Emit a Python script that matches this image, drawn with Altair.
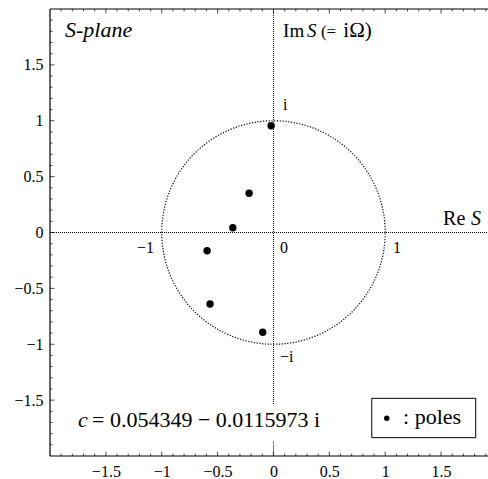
import altair as alt
import numpy as np
import pandas as pd

# Pole locations in the S-plane (real part, imaginary part)
POLE_RE = [-0.021, -0.218, -0.364, -0.594, -0.568, -0.096]
POLE_IM = [0.956, 0.351, 0.043, -0.163, -0.640, -0.893]

# Frame extent and axis labelling
X_DOMAIN = [-2.0, 1.92]
Y_DOMAIN = [-2.0, 2.0]
TICK_LABELS = [-1.5, -1.0, -0.5, 0.0, 0.5, 1.0, 1.5]
MINOR_STEP = 0.1

# The vertical axis line is broken where the constant's caption sits
IM_AXIS_SEGMENTS = [(2.0, -1.54), (-1.87, -2.0)]

CONSTANT_TEXT = "= 0.054349 \u2212 0.0115973 i"

W, H = 438, 447
SERIF = "Liberation Serif"

xs = alt.Scale(domain=X_DOMAIN, nice=False, zero=False)
ys = alt.Scale(domain=Y_DOMAIN, nice=False, zero=False)

label_expr = "replace(format(datum.value, '~g'), '-', '\u2212')"
x_axis = alt.Axis(values=TICK_LABELS, labelExpr=label_expr, ticks=False, domain=False,
                  grid=False, title="", labelPadding=7, labelFont=SERIF, labelFontSize=16,
                  labelColor="black")
y_axis = alt.Axis(values=TICK_LABELS, labelExpr=label_expr, ticks=False, domain=False,
                  grid=False, title="", labelPadding=7, labelFont=SERIF, labelFontSize=16,
                  labelColor="black")


def X(field):
    return alt.X(field, type="quantitative", scale=xs, axis=x_axis)


def Y(field):
    return alt.Y(field, type="quantitative", scale=ys, axis=y_axis)


# Unit circle |S| = 1
theta = np.linspace(0, 2 * np.pi, 361)
circle_df = pd.DataFrame({"x": np.cos(theta), "y": np.sin(theta), "k": np.arange(361)})
circle = alt.Chart(circle_df).mark_line(
    color="black", strokeWidth=1.2, strokeDash=[1.2, 1.6]
).encode(x=X("x"), y=Y("y"), order="k:Q")

# Dotted real and imaginary axes
re_axis = alt.Chart(pd.DataFrame({"x": [X_DOMAIN[0]], "x2": [X_DOMAIN[1]], "y": [0.0]})).mark_rule(
    color="black", strokeWidth=1, strokeDash=[1, 1]
).encode(x=X("x"), x2="x2", y=Y("y"))
im_axis = alt.Chart(pd.DataFrame({
    "x": [0.0] * len(IM_AXIS_SEGMENTS),
    "y": [s[0] for s in IM_AXIS_SEGMENTS],
    "y2": [s[1] for s in IM_AXIS_SEGMENTS],
})).mark_rule(color="black", strokeWidth=1, strokeDash=[1, 1]).encode(
    x=X("x"), y=Y("y"), y2="y2")

# Frame: top, left and bottom edges
frame_h = alt.Chart(pd.DataFrame({"x": [X_DOMAIN[0]] * 2, "x2": [X_DOMAIN[1]] * 2,
                                  "y": [Y_DOMAIN[0], Y_DOMAIN[1]]})).mark_rule(
    color="black", strokeWidth=1.2).encode(x=X("x"), x2="x2", y=Y("y"))
frame_v = alt.Chart(pd.DataFrame({"x": [X_DOMAIN[0]], "y": [Y_DOMAIN[0]], "y2": [Y_DOMAIN[1]]})).mark_rule(
    color="black", strokeWidth=1.2).encode(x=X("x"), y=Y("y"), y2="y2")


# Inward-pointing frame ticks (major every 0.5, minor every 0.1)
def tick_positions(lo, hi):
    vals = np.round(np.arange(-2.0, 2.0 + 1e-9, MINOR_STEP), 2)
    vals = [float(v) for v in vals if lo < v < hi]
    major = [v for v in vals if abs(v * 2 - round(v * 2)) < 1e-6]
    minor = [v for v in vals if v not in major]
    return major, minor


xmaj, xmin = tick_positions(X_DOMAIN[0], X_DOMAIN[1])
ymaj, ymin = tick_positions(Y_DOMAIN[0], Y_DOMAIN[1])

tick_layers = []
for vals, length in [(xmaj, 4.5), (xmin, 2.5)]:
    for edge, off in [(Y_DOMAIN[1], length / 2), (Y_DOMAIN[0], -length / 2)]:
        df = pd.DataFrame({"x": vals, "y": [edge] * len(vals)})
        tick_layers.append(alt.Chart(df).mark_tick(
            orient="vertical", size=length, thickness=1, color="black", yOffset=off
        ).encode(x=X("x"), y=Y("y")))
for vals, length in [(ymaj, 4.5), (ymin, 2.5)]:
    df = pd.DataFrame({"x": [X_DOMAIN[0]] * len(vals), "y": vals})
    tick_layers.append(alt.Chart(df).mark_tick(
        orient="horizontal", size=length, thickness=1, color="black", xOffset=length / 2
    ).encode(x=X("x"), y=Y("y")))

# Poles
poles = alt.Chart(pd.DataFrame({"x": POLE_RE, "y": POLE_IM})).mark_point(
    filled=True, color="black", opacity=1, size=55, shape="circle"
).encode(x=X("x"), y=Y("y"))


def text_layer(rows, size, italic=False, align="left"):
    df = pd.DataFrame(rows, columns=["x", "y", "t"])
    return alt.Chart(df).mark_text(
        font=SERIF, fontSize=size, fontStyle="italic" if italic else "normal",
        align=align, baseline="alphabetic", color="black"
    ).encode(x=X("x"), y=Y("y"), text="t:N")


texts = [
    text_layer([(-1.866, 1.745, "S-plane")], 22, italic=True),
    text_layer([(0.086, 1.752, "Im")], 19),
    text_layer([(0.300, 1.752, "S")], 19, italic=True),
    text_layer([(0.425, 1.752, "(=")], 17),
    text_layer([(0.625, 1.752, "i\u03a9)")], 21),
    text_layer([(1.518, 0.067, "Re")], 20),
    text_layer([(1.768, 0.067, "S")], 20, italic=True),
    text_layer([(0.086, 1.096, "i"), (0.059, -1.159, "\u2212i"),
                (0.059, -0.183, "0"), (1.07, -0.183, "1")], 16),
    text_layer([(-1.069, -0.183, "\u22121")], 16, align="right"),
    text_layer([(-1.749, -1.74, "c")], 22, italic=True),
    text_layer([(-1.624, -1.74, CONSTANT_TEXT)], 22),
]

# Legend box
legend_box = alt.Chart(pd.DataFrame({"x": [0.88], "x2": [1.81], "y": [-1.484], "y2": [-1.836]})).mark_rect(
    fill="white", stroke="black", strokeWidth=1
).encode(x=X("x"), x2="x2", y=Y("y"), y2="y2")
legend_dot = alt.Chart(pd.DataFrame({"x": [1.014], "y": [-1.663]})).mark_point(
    filled=True, color="black", opacity=1, size=30, shape="circle"
).encode(x=X("x"), y=Y("y"))
legend_text = text_layer([(1.16, -1.716, ": poles")], 22)

chart = alt.layer(
    circle, re_axis, im_axis, frame_h, frame_v, *tick_layers, poles, *texts,
    legend_box, legend_dot, legend_text
).properties(
    width=W, height=H,
    autosize=alt.AutoSizeParams(type="none"),
    padding={"left": 50, "top": 9, "right": 0, "bottom": 23},
    background="white",
).configure_view(stroke="transparent")

chart.save("out.html", embed_options={"renderer": "svg", "actions": False})
